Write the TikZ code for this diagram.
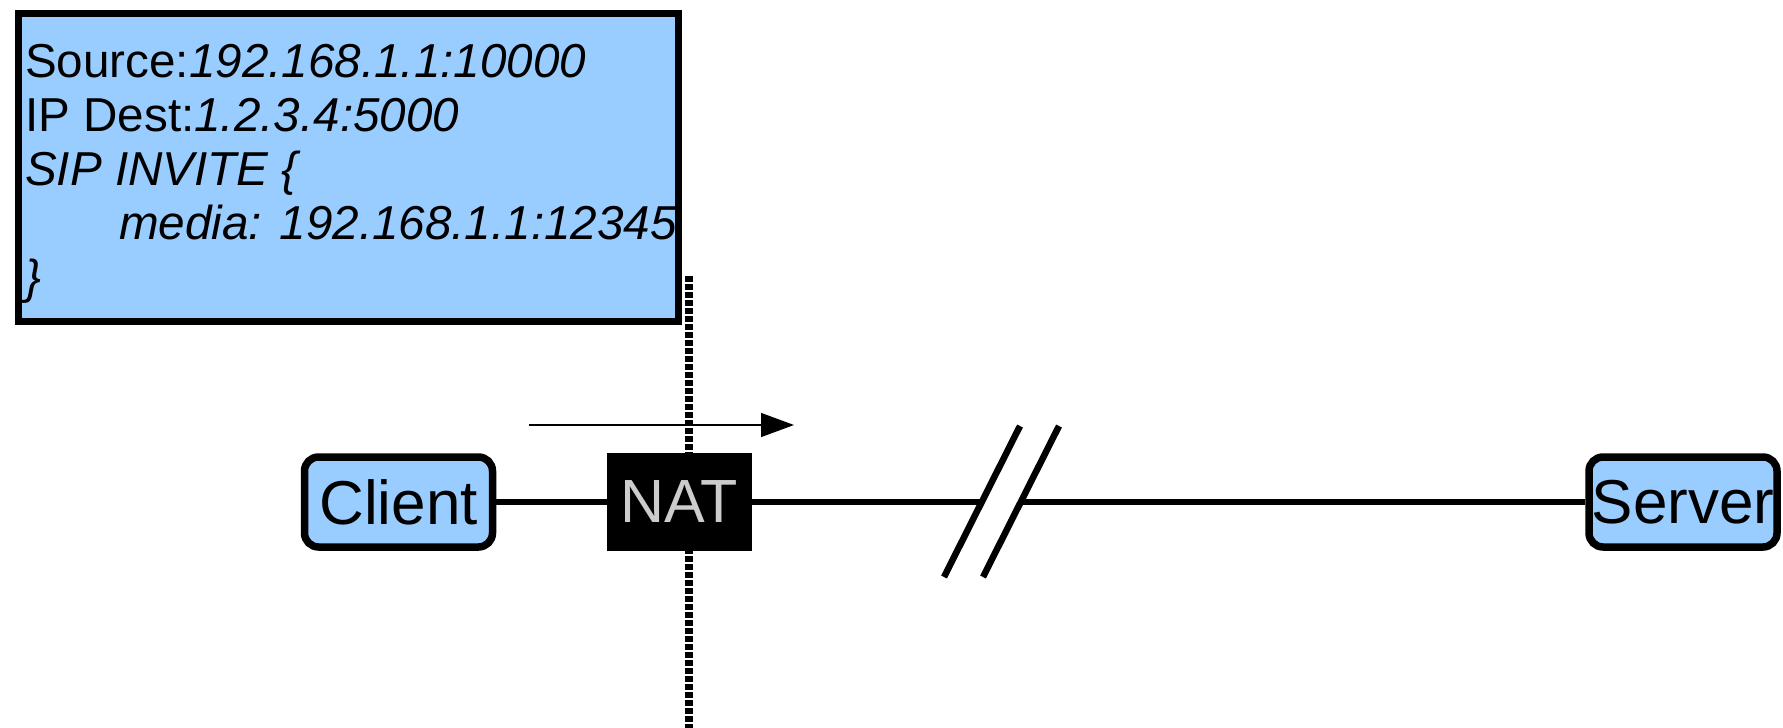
\documentclass[tikz,border=0pt]{standalone}
\usepackage{fontspec}
\setmainfont{Liberation Sans}
\usetikzlibrary{arrows.meta}
\definecolor{lblue}{HTML}{99CCFF}
\definecolor{natgray}{HTML}{CCCCCC}
\tikzset{
  hostbox/.style={draw=black, line width=7.5pt, fill=lblue, rounded corners=14pt,
    minimum width=188pt, minimum height=90pt, inner sep=0pt,
    font=\fontsize{62}{62}\selectfont},
  natbox/.style={fill=black, text=natgray, minimum width=145pt, minimum height=98pt,
    inner sep=0pt, font=\fontsize{61}{61}\selectfont},
  msgbox/.style={draw=black, line width=7.5pt, fill=lblue, minimum width=660pt,
    minimum height=308pt, inner sep=0pt},
  msgline/.style={anchor=base west, inner sep=0pt, font=\fontsize{47.6}{53.5}\selectfont},
  link/.style={line width=6.5pt},
  breakmark/.style={line width=6.5pt},
  boundary/.style={line width=7.5pt, dash pattern=on 5.5pt off 2.5pt}
}
\begin{document}
\begin{tikzpicture}[x=1pt,y=-1pt]
\useasboundingbox (0,0) rectangle (1783,728);
% NAT boundary
\coordinate (btop) at (689,276);
\coordinate (bbot) at (689,728);
\draw[boundary] (btop) -- (bbot);
% message box
\node[msgbox] (msg) at (348.5,167.5) {};
\node[msgline] (l1) at (25,77) {Source:\textit{192.168.1.1:10000}};
\node[msgline] (l2) at (25,131) {IP Dest:\textit{1.2.3.4:5000}};
\node[msgline] (l3) at (25,185) {\textit{SIP INVITE \{}};
\node[msgline] (l4) at (119,239) {\textit{media: 192.168.1.1:12345}};
\node[msgline] (l5) at (25,293) {\textit{\}}};
% arrow
\coordinate (as) at (529,425);
\coordinate (ae) at (794,425);
\draw[line width=1.4pt, -{Triangle[length=33pt,width=24pt]}] (as) -- (ae);
% nodes
\node[hostbox] (client) at (398.5,502) {Client};
\node[natbox] (nat) at (679.5,502) {NAT};
\node[hostbox] (server) at (1683,502) {Server};
% links
\coordinate (c1) at (982,502);
\coordinate (c2) at (1021,502);
\draw[link] (client.east) -- (nat.west);
\draw[link] (nat.east) -- (c1);
\draw[link] (c2) -- (server.west);
% break marks
\coordinate (s1a) at (944,577);
\coordinate (s1b) at (1020,426);
\coordinate (s2a) at (983,577);
\coordinate (s2b) at (1059,426);
\draw[breakmark] (s1a) -- (s1b);
\draw[breakmark] (s2a) -- (s2b);
\end{tikzpicture}
\end{document}
